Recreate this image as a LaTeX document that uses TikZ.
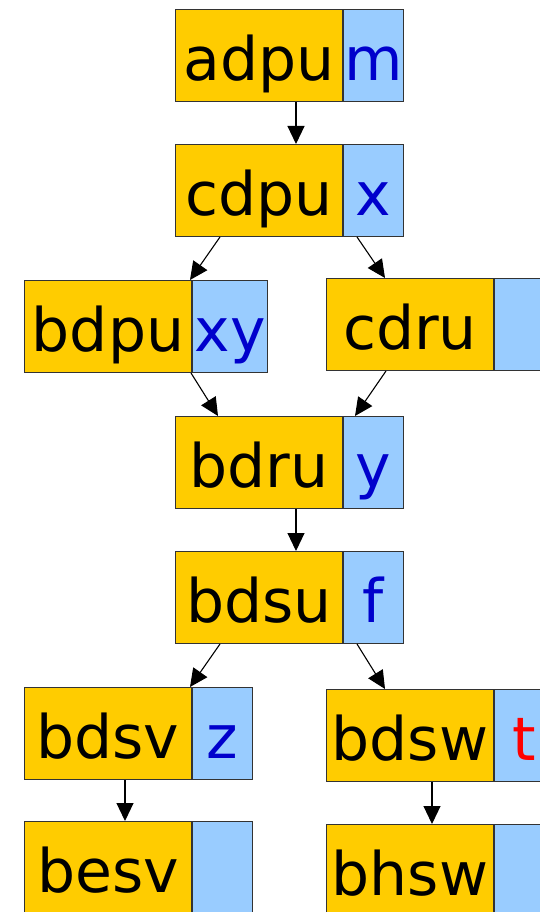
\documentclass[tikz,border=0pt]{standalone}
\usepackage{fontspec}
\setmainfont{DejaVu Sans}
\usetikzlibrary{arrows.meta}
\definecolor{orangeY}{HTML}{FFCC00}
\definecolor{blueL}{HTML}{99CCFF}
\definecolor{blueT}{HTML}{0000CC}
\definecolor{redT}{HTML}{FF0000}
\definecolor{edgeC}{HTML}{333333}
\tikzset{
  lbox/.style={draw=edgeC, line width=1pt, fill=orangeY, minimum width=167pt, minimum height=92pt,
    inner sep=0pt, text height=71pt, text depth=21pt, anchor=north west,
    font=\fontsize{60}{62}\selectfont, text=black},
  rbox/.style={lbox, fill=blueL, minimum width=60pt, text=blueT},
  arr/.style={draw=black, line width=1.1pt, -{Triangle[length=18pt,width=17pt]}}
}
\begin{document}
\begin{tikzpicture}[x=1pt,y=-1pt]
\useasboundingbox (0,0) rectangle (540,912);
\clip (0,0) rectangle (540,912);
\node[lbox] (adpu) at (175,9) {adpu};
\node[rbox] (adpur) at (adpu.north east) {m};
\node[lbox] (cdpu) at (175,144) {cdpu};
\node[rbox] (cdpur) at (cdpu.north east) {x};
\node[lbox] (bdpu) at (24,280) {bdpu};
\node[rbox, minimum width=75pt] (bdpur) at (bdpu.north east) {xy};
\node[lbox] (cdru) at (326,278) {cdru};
\node[rbox] (cdrur) at (cdru.north east) {};
\node[lbox] (bdru) at (175,416) {bdru};
\node[rbox] (bdrur) at (bdru.north east) {y};
\node[lbox] (bdsu) at (175,551) {bdsu};
\node[rbox] (bdsur) at (bdsu.north east) {f};
\node[lbox] (bdsv) at (24,687) {bdsv};
\node[rbox] (bdsvr) at (bdsv.north east) {z};
\node[lbox] (bdsw) at (326,689) {bdsw};
\node[rbox, text=redT] (bdswr) at (bdsw.north east) {t};
\node[lbox] (besv) at (24,821) {besv};
\node[rbox] (besvr) at (besv.north east) {};
\node[lbox] (bhsw) at (326,824) {bhsw};
\node[rbox] (bhswr) at (bhsw.north east) {};
\draw[arr] ([xshift=121pt]adpu.south west) -- ([xshift=121pt]cdpu.north west);
\draw[arr] ([xshift=45pt]cdpu.south west) -- ([xshift=166pt]bdpu.north west);
\draw[arr] ([xshift=182pt]cdpu.south west) -- ([xshift=59pt]cdru.north west);
\draw[arr] ([xshift=167pt]bdpu.south west) -- ([xshift=43pt]bdru.north west);
\draw[arr] ([xshift=60pt]cdru.south west) -- ([xshift=180pt]bdru.north west);
\draw[arr] ([xshift=121pt]bdru.south west) -- ([xshift=121pt]bdsu.north west);
\draw[arr] ([xshift=45pt]bdsu.south west) -- ([xshift=166pt]bdsv.north west);
\draw[arr] ([xshift=182pt]bdsu.south west) -- ([xshift=59pt]bdsw.north west);
\draw[arr] ([xshift=101pt]bdsv.south west) -- ([xshift=101pt]besv.north west);
\draw[arr] ([xshift=106pt]bdsw.south west) -- ([xshift=106pt]bhsw.north west);
\end{tikzpicture}
\end{document}
